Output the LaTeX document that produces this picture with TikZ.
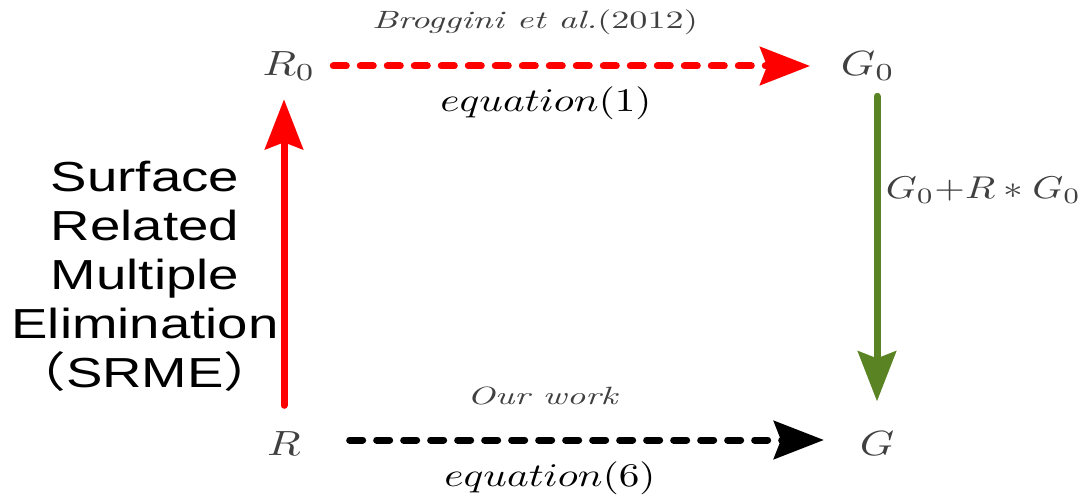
\documentclass[tikz,border=0pt]{standalone}
\usepackage{fontspec}
\newfontfamily\arialfont{Liberation Sans}
\newfontfamily\cjkfont{Noto Sans CJK SC}
\usetikzlibrary{arrows.meta,calc}
\definecolor{gtext}{RGB}{64,64,64}
\definecolor{myred}{RGB}{255,0,0}
\definecolor{mygreen}{RGB}{90,132,36}
\tikzset{
  mlbl/.style={text=gtext, inner sep=0pt, font=\fontsize{10}{12}\selectfont, scale=3.5, xscale=1.25},
  notelbl/.style={text=gtext, inner sep=0pt, font=\fontsize{10}{12}\selectfont, scale=2.5, xscale=1.45},
  eqlbl/.style={text=black, inner sep=0pt, font=\fontsize{10}{12}\selectfont, scale=3.3, xscale=1.25},
  srme/.style={text=black, inner sep=0pt, align=center, font=\arialfont\fontsize{42}{49}\selectfont, xscale=1.3},
  bighead/.style={-{Stealth[length=50pt,width=38pt,inset=7pt]}},
  dashln/.style={line width=7pt, line cap=round, dash pattern=on 13pt off 14pt},
  solidln/.style={line width=7pt, line cap=round},
}
\begin{document}
\begin{tikzpicture}[x=1pt,y=-1pt]
\useasboundingbox (0,0) rectangle (1082,500);
\node[mlbl] (R0) at (289,66) {$R_0$};
\node[mlbl] (G0) at (868,66) {$G_0$};
\node[mlbl] (R) at (284,444) {$R$};
\node[mlbl] (G) at (877,444) {$G$};
\node[notelbl] (brog) at (535,22) {\textit{Broggini et al.}(2012)};
\node[eqlbl] (eq1) at (546,103) {$equation(1)$};
\node[notelbl] (our) at (543,396) {\textit{Our work}};
\node[eqlbl] (eq6) at (550,478) {$equation(6)$};
\node[mlbl, scale=0.9, anchor=west] (conv) at (885,190) {$G_0{+}R\ast G_0$};
\node[srme] (srmetxt) at (145,276) {Surface\\Related\\Multiple\\Elimination\\{\cjkfont （}SRME{\cjkfont ）}};
% connectors
\draw[myred, dashln, bighead, shorten <=17pt, shorten >=30pt] (R0.east) -- (G0.west);
\draw[black, dashln, bighead, shorten <=48pt, shorten >=35pt] ([yshift=4pt]R.east) -- ([yshift=4pt]G.west);
\draw[myred, solidln, bighead, shorten <=26pt, shorten >=18pt] (R.north) -- (R.north |- R0.south);
\draw[mygreen, solidln, bighead, shorten <=15pt, shorten >=30pt] (G.north |- G0.south) -- (G.north);
\end{tikzpicture}
\end{document}
